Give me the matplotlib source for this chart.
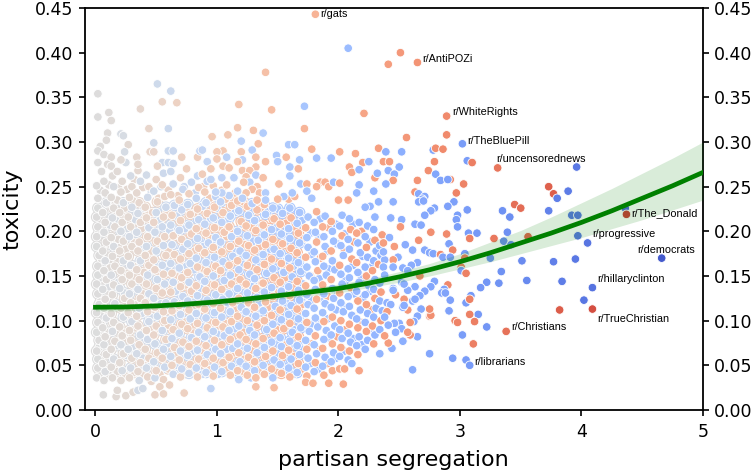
"""
Toxicity against partisan segregation for a set of subreddits.
Point values are estimates read off the picture; a negative segregation
value marks the left leaning (blue) side, a positive one the right (red) side.
"""

import matplotlib.pyplot as plt
import numpy as np

band_0 = [(0.01,0.036),(0.02,0.047),(-0.02,0.057),(0.01,0.066),(0.03,0.078),(-0.01,0.087),(0.02,0.098),(0.01,0.109),(-0.03,0.118),(0.02,0.13),(0.01,0.141),(-0.02,0.151),(0.02,0.161),(0.03,0.173),(-0.01,0.183),(0.01,0.194),(0.02,0.205),(0.01,0.216),(-0.02,0.226),(0.02,0.237),(0.01,0.251),
(0.07,0.033),(-0.08,0.043),(0.06,0.052),(0.09,0.062),(-0.07,0.073),(0.08,0.082),(0.06,0.092),(-0.09,0.103),(0.07,0.114),(0.08,0.124),(-0.06,0.135),(0.09,0.146),(0.07,0.156),(-0.08,0.167),(0.06,0.178),(0.09,0.188),(-0.07,0.199),(0.08,0.21),(0.06,0.221),(-0.09,0.232),(0.08,0.243),(0.07,0.256),
(0.14,0.036),(0.13,0.048),(-0.15,0.057),(0.13,0.068),(0.16,0.077),(-0.14,0.088),(0.15,0.098),(0.13,0.108),(-0.16,0.119),(0.14,0.129),(0.15,0.14),(-0.13,0.151),(0.16,0.161),(0.14,0.172),(-0.15,0.183),(0.13,0.193),(0.16,0.205),(-0.14,0.215),(0.15,0.226),(0.13,0.238),(-0.15,0.25),(0.14,0.262)]

band_1 = [(0.21,0.033),(-0.22,0.044),(0.2,0.053),(0.23,0.063),(-0.21,0.073),(0.22,0.083),(0.2,0.093),(-0.23,0.104),(0.21,0.114),(0.24,0.125),(-0.2,0.136),(0.22,0.146),(0.21,0.156),(-0.23,0.167),(0.2,0.178),(0.23,0.189),(-0.21,0.2),(0.22,0.21),(0.2,0.221),(-0.23,0.232),(0.21,0.244),(0.22,0.256),
(0.28,0.036),(-0.29,0.047),(0.3,0.058),(-0.27,0.068),(0.29,0.078),(0.28,0.089),(-0.3,0.099),(0.27,0.109),(0.29,0.12),(-0.28,0.13),(0.3,0.141),(0.28,0.151),(-0.29,0.162),(0.27,0.172),(0.3,0.183),(-0.28,0.194),(0.29,0.205),(0.27,0.216),(-0.3,0.227),(0.28,0.238),(0.3,0.25),(-0.29,0.262),
(-0.36,0.033),(0.35,0.043),(0.37,0.053),(-0.34,0.063),(0.36,0.073),(-0.37,0.084),(0.35,0.094),(0.34,0.105),(-0.36,0.114),(0.37,0.125),(-0.35,0.135),(0.36,0.146),(0.34,0.157),(-0.37,0.167),(0.35,0.178),(0.36,0.188),(-0.34,0.199),(0.37,0.21),(-0.35,0.22),(0.36,0.232),(0.34,0.243),(-0.37,0.256),(0.35,0.268),
(0.43,0.037),(-0.42,0.047),(0.44,0.058),(0.41,0.068),(-0.43,0.079),(0.42,0.089),(-0.44,0.099),(0.43,0.11),(0.41,0.12),(-0.44,0.13),(0.42,0.141),(-0.43,0.151),(0.44,0.162),(0.41,0.173),(-0.42,0.183),(0.43,0.194),(-0.44,0.204),(0.42,0.215),(0.41,0.227),(-0.43,0.238),(0.44,0.25),(-0.42,0.263)]

band_2 = [(-0.49,0.036),(0.5,0.044),(-0.48,0.054),(0.51,0.064),(-0.49,0.074),(0.48,0.084),(0.5,0.094),(-0.51,0.105),(0.49,0.115),(-0.48,0.125),(0.5,0.136),(-0.51,0.146),(0.49,0.157),(0.48,0.168),(-0.5,0.178),(0.51,0.189),(-0.49,0.199),(0.48,0.21),(-0.5,0.221),(0.51,0.233),(-0.48,0.245),(0.5,0.258),
(0.56,0.034),(-0.57,0.048),(0.55,0.058),(-0.56,0.068),(0.58,0.079),(-0.55,0.089),(0.57,0.1),(0.56,0.11),(-0.58,0.12),(0.55,0.131),(-0.57,0.141),(0.56,0.152),(-0.55,0.162),(0.58,0.173),(-0.56,0.184),(0.57,0.194),(-0.55,0.205),(0.56,0.216),(-0.58,0.227),(0.57,0.239),(0.55,0.252),(-0.56,0.265),
(-0.64,0.04),(0.63,0.05),(-0.62,0.06),(0.65,0.07),(-0.63,0.08),(0.64,0.09),(-0.62,0.101),(0.63,0.111),(-0.65,0.121),(0.62,0.132),(-0.64,0.143),(0.63,0.153),(-0.62,0.164),(0.65,0.174),(-0.63,0.185),(0.64,0.195),(-0.62,0.207),(0.63,0.218),(-0.65,0.229),(0.62,0.241),(-0.64,0.253),
(0.7,0.037),(-0.71,0.046),(0.69,0.056),(-0.7,0.066),(0.72,0.076),(-0.69,0.086),(0.71,0.096),(-0.7,0.107),(0.69,0.117),(-0.72,0.127),(0.7,0.138),(0.71,0.148),(-0.69,0.159),(0.7,0.169),(-0.72,0.18),(0.71,0.191),(-0.69,0.201),(0.7,0.212),(-0.71,0.224),(0.69,0.235),(-0.72,0.247),(0.7,0.26),
(-0.77,0.041),(0.78,0.051),(-0.76,0.061),(0.77,0.071),(-0.79,0.081),(0.76,0.091),(-0.78,0.102),(0.77,0.112),(-0.76,0.122),(0.79,0.133),(-0.77,0.143),(0.76,0.154),(-0.78,0.164),(0.77,0.175),(-0.76,0.186),(0.79,0.197),(-0.77,0.207),(0.78,0.219),(-0.76,0.23),(0.77,0.242),(-0.79,0.255),
(0.84,0.037),(-0.83,0.047),(0.85,0.057),(-0.84,0.067),(0.83,0.077),(-0.85,0.087),(0.84,0.097),(-0.83,0.108),(0.85,0.118),(-0.84,0.128),(0.83,0.139),(-0.86,0.149),(0.84,0.16),(-0.83,0.17),(0.85,0.181),(-0.84,0.192),(0.83,0.203),(-0.85,0.213),(0.84,0.225),(-0.83,0.237),(0.85,0.249),(-0.84,0.262),
(-0.91,0.042),(0.9,0.052),(-0.92,0.062),(0.91,0.072),(-0.9,0.082),(0.92,0.092),(-0.91,0.103),(0.9,0.113),(-0.92,0.123),(0.91,0.134),(-0.9,0.144),(0.92,0.155),(-0.91,0.165),(0.9,0.176),(-0.93,0.187),(0.91,0.198),(-0.9,0.208),(0.92,0.22),(-0.91,0.232),(0.9,0.244),(-0.92,0.256)]

band_3 = [(0.97,0.038),(-0.98,0.048),(0.97,0.058),(-0.99,0.068),(0.98,0.078),(-0.97,0.088),(0.99,0.098),(-0.98,0.109),(0.97,0.119),(-0.99,0.129),(0.98,0.14),(-0.97,0.15),(0.99,0.161),(-0.98,0.171),(0.97,0.182),(-0.99,0.193),(0.98,0.204),(-0.97,0.215),(0.98,0.227),(-0.99,0.239),(0.97,0.251),
(-1.04,0.043),(1.05,0.053),(-1.03,0.063),(1.04,0.073),(-1.06,0.083),(1.05,0.093),(-1.04,0.104),(1.03,0.114),(-1.05,0.124),(1.04,0.135),(-1.06,0.145),(1.03,0.156),(-1.05,0.166),(1.04,0.177),(-1.03,0.188),(1.06,0.199),(-1.04,0.21),(1.05,0.221),(-1.03,0.233),(1.04,0.246),
(1.11,0.039),(-1.12,0.049),(1.1,0.059),(-1.13,0.069),(1.11,0.079),(-1.1,0.089),(1.12,0.099),(-1.11,0.11),(1.13,0.12),(-1.1,0.13),(1.12,0.141),(-1.11,0.151),(1.1,0.162),(-1.13,0.172),(1.11,0.183),(-1.12,0.194),(1.1,0.205),(-1.11,0.217),(1.12,0.229),(-1.1,0.24),
(-1.18,0.034),(1.17,0.044),(-1.19,0.054),(1.18,0.064),(-1.17,0.074),(1.19,0.084),(-1.18,0.094),(1.17,0.105),(-1.2,0.115),(1.18,0.125),(-1.17,0.136),(1.19,0.146),(-1.18,0.157),(1.17,0.167),(-1.19,0.178),(1.18,0.189),(-1.17,0.2),(1.2,0.211),(-1.18,0.223),(1.17,0.234),
(1.25,0.039),(-1.24,0.049),(1.26,0.059),(-1.25,0.069),(1.24,0.079),(-1.27,0.089),(1.25,0.1),(-1.24,0.11),(1.26,0.12),(-1.25,0.131),(1.24,0.141),(-1.27,0.152),(1.25,0.162),(-1.24,0.173),(1.26,0.184),(-1.25,0.195),(1.24,0.206),(-1.26,0.218),(1.25,0.228),
(-1.31,0.044),(1.32,0.036),(1.31,0.054),(-1.33,0.064),(1.32,0.074),(-1.31,0.084),(1.33,0.095),(-1.32,0.105),(1.31,0.115),(-1.33,0.126),(1.32,0.136),(-1.31,0.147),(1.33,0.157),(-1.32,0.168),(1.31,0.179),(-1.34,0.19),(1.32,0.201),(-1.31,0.212),(1.33,0.224),
(1.39,0.04),(-1.38,0.05),(1.4,0.06),(-1.39,0.07),(1.38,0.08),(-1.41,0.09),(1.39,0.1),(-1.38,0.111),(1.4,0.121),(-1.39,0.132),(1.38,0.142),(-1.41,0.153),(1.39,0.163),(-1.38,0.174),(1.4,0.185),(-1.39,0.196),(1.38,0.207),(-1.4,0.219),(1.39,0.23),
(-1.46,0.036),(1.45,0.046),(-1.47,0.056),(1.46,0.066),(-1.45,0.076),(1.47,0.086),(-1.46,0.096),(1.45,0.106),(-1.48,0.116),(1.46,0.127),(-1.45,0.137),(1.47,0.148),(-1.46,0.158),(1.45,0.169),(-1.47,0.18),(1.46,0.191),(-1.45,0.202),(1.47,0.214),(-1.46,0.226)]

band_4 = [(1.53,0.041),(-1.52,0.051),(1.54,0.061),(-1.53,0.071),(-1.52,0.081),(1.55,0.091),(-1.53,0.101),(1.52,0.112),(-1.54,0.122),(-1.53,0.133),(1.52,0.143),(-1.55,0.154),(1.53,0.164),(-1.52,0.175),(1.54,0.186),(-1.53,0.197),(1.52,0.208),(-1.54,0.22),
(-1.59,0.047),(1.6,0.037),(-1.61,0.057),(1.59,0.067),(-1.6,0.077),(-1.62,0.087),(1.6,0.097),(-1.59,0.107),(-1.61,0.117),(1.6,0.128),(-1.59,0.138),(-1.62,0.149),(1.6,0.159),(-1.59,0.17),(1.61,0.181),(-1.6,0.192),(-1.59,0.203),(1.61,0.215),(-1.6,0.226),
(-1.66,0.042),(1.67,0.052),(-1.68,0.062),(-1.66,0.072),(1.67,0.082),(-1.69,0.092),(-1.67,0.102),(1.66,0.113),(-1.68,0.123),(-1.67,0.134),(1.66,0.144),(-1.69,0.155),(-1.67,0.165),(1.66,0.176),(-1.68,0.187),(1.67,0.198),(-1.66,0.209),(-1.68,0.221),
(1.74,0.038),(-1.73,0.048),(-1.75,0.058),(1.74,0.068),(-1.73,0.078),(-1.76,0.088),(1.74,0.098),(-1.73,0.108),(-1.75,0.118),(-1.74,0.129),(1.73,0.139),(-1.76,0.15),(-1.74,0.16),(1.73,0.171),(-1.75,0.182),(-1.74,0.193),(1.73,0.204),(-1.75,0.216),
(-1.8,0.043),(1.81,0.053),(-1.82,0.063),(-1.8,0.073),(1.81,0.083),(-1.83,0.093),(-1.81,0.103),(-1.8,0.114),(1.82,0.124),(-1.81,0.135),(-1.8,0.145),(1.83,0.156),(-1.81,0.166),(-1.8,0.177),(1.82,0.188),(-1.81,0.199),(-1.8,0.21),(1.82,0.222),
(-1.87,0.049),(1.88,0.039),(-1.89,0.059),(1.87,0.069),(-1.88,0.079),(-1.9,0.089),(1.88,0.099),(-1.87,0.109),(-1.89,0.119),(-1.88,0.13),(1.87,0.14),(-1.9,0.151),(-1.88,0.161),(1.87,0.172),(-1.89,0.183),(-1.88,0.194),(1.87,0.205),(-1.89,0.217),
(1.95,0.044),(-1.94,0.054),(-1.96,0.064),(1.95,0.074),(-1.94,0.084),(-1.97,0.094),(1.95,0.104),(-1.94,0.115),(-1.96,0.125),(-1.95,0.136),(1.94,0.146),(-1.97,0.157),(-1.95,0.167),(1.94,0.178),(-1.96,0.189),(-1.95,0.2),(1.94,0.211)]

band_5 = [(-2.01,0.06),(2.02,0.07),(-2.03,0.08),(-2.01,0.09),(2.02,0.1),(-2.04,0.11),(-2.02,0.12),(2.01,0.131),(-2.03,0.141),(-2.02,0.152),(2.01,0.162),(-2.04,0.173),(-2.02,0.184),(2.03,0.195),(-2.01,0.206),(-2.03,0.218),
(-2.08,0.056),(2.09,0.066),(-2.1,0.076),(-2.08,0.086),(2.09,0.096),(-2.11,0.106),(-2.09,0.116),(-2.08,0.127),(2.1,0.137),(-2.09,0.148),(-2.08,0.158),(2.11,0.169),(-2.09,0.18),(-2.08,0.191),(2.1,0.202),(-2.09,0.214),
(2.16,0.062),(-2.15,0.072),(-2.17,0.082),(2.16,0.092),(-2.15,0.102),(-2.18,0.112),(2.16,0.122),(-2.15,0.133),(-2.17,0.143),(-2.16,0.154),(2.15,0.165),(-2.18,0.176),(-2.16,0.187),(2.15,0.198),(-2.17,0.21),
(-2.22,0.068),(-2.24,0.078),(2.23,0.088),(-2.22,0.098),(-2.24,0.108),(2.23,0.118),(-2.22,0.129),(-2.25,0.139),(2.23,0.15),(-2.22,0.16),(-2.24,0.171),(2.23,0.182),(-2.22,0.194),(-2.24,0.206),
(2.29,0.074),(-2.3,0.084),(2.28,0.094),(-2.29,0.104),(-2.31,0.114),(2.3,0.125),(-2.29,0.135),(-2.3,0.146),(2.28,0.156),(-2.29,0.167),(-2.31,0.178),(2.3,0.19),(-2.29,0.202),(-2.3,0.216),
(-2.34,0.09),(2.35,0.1),(-2.36,0.111),(-2.34,0.122),(2.35,0.132),(-2.34,0.142),(2.33,0.163),(-2.35,0.173),(-2.34,0.184),(2.36,0.196)]

# in-between points, the dense part has no white gaps
fill_a = [(0.04,0.041),(-0.03,0.07),(0.05,0.095),(0.04,0.121),(-0.04,0.148),(0.05,0.169),(0.03,0.199),(-0.05,0.222),(0.04,0.246),
(0.11,0.039),(-0.12,0.066),(0.11,0.087),(0.1,0.111),(-0.11,0.138),(0.12,0.159),(0.11,0.186),(-0.12,0.207),(0.1,0.231),(0.11,0.252),
(0.18,0.043),(-0.18,0.072),(0.19,0.094),(0.17,0.116),(-0.19,0.143),(0.18,0.166),(0.19,0.191),(-0.17,0.212),(0.18,0.235),(0.19,0.249),
(0.25,0.038),(-0.26,0.061),(0.24,0.086),(0.25,0.109),(-0.24,0.131),(0.26,0.153),(0.25,0.18),(-0.26,0.203),(0.24,0.226),(0.26,0.247),
(0.32,0.042),(-0.31,0.071),(0.33,0.092),(0.32,0.118),(-0.33,0.138),(0.31,0.161),(0.32,0.187),(-0.33,0.213),(0.31,0.234),(0.32,0.258),
(0.39,0.04),(-0.39,0.058),(0.4,0.088),(-0.38,0.108),(0.39,0.13),(0.4,0.154),(-0.39,0.181),(0.38,0.203),(-0.4,0.226),(0.39,0.249),
(0.46,0.032),(-0.46,0.053),(0.47,0.083),(-0.45,0.104),(0.46,0.125),(-0.47,0.156),(0.46,0.178),(-0.45,0.198),(0.47,0.221),(-0.46,0.244),
(0.53,0.04),(-0.53,0.069),(0.52,0.09),(-0.54,0.119),(0.53,0.141),(-0.52,0.163),(0.54,0.183),(-0.53,0.212),(0.52,0.237),(-0.54,0.25),
(0.6,0.046),(-0.59,0.074),(0.6,0.095),(-0.6,0.116),(0.61,0.137),(-0.59,0.158),(0.6,0.178),(-0.61,0.201),(0.59,0.222),(0.6,0.246),
(-0.67,0.05),(0.66,0.063),(-0.67,0.085),(0.68,0.112),(-0.66,0.133),(0.67,0.149),(-0.68,0.175),(0.66,0.196),(-0.67,0.217),(0.68,0.24),
(0.74,0.042),(-0.74,0.072),(0.75,0.099),(-0.73,0.118),(0.74,0.14),(-0.75,0.161),(0.73,0.183),(-0.74,0.203),(0.75,0.227),(-0.73,0.25)]

fill_b = [(0.81,0.044),(-0.8,0.066),(0.81,0.086),(-0.82,0.105),(0.8,0.13),(-0.81,0.157),(0.82,0.178),(-0.8,0.2),(0.81,0.22),(-0.82,0.243),
(-0.88,0.04),(0.87,0.067),(-0.88,0.093),(0.89,0.114),(-0.87,0.136),(0.88,0.159),(-0.89,0.183),(0.87,0.206),(-0.88,0.228),(0.89,0.25),
(0.94,0.045),(-0.95,0.075),(0.94,0.098),(-0.94,0.118),(0.95,0.14),(-0.93,0.171),(0.94,0.192),(-0.95,0.214),(0.94,0.237),
(-1.01,0.04),(1.01,0.063),(-1.0,0.085),(1.01,0.11),(-1.02,0.13),(1.0,0.152),(-1.01,0.183),(1.02,0.205),(-1.0,0.226),(1.01,0.24),
(1.08,0.046),(-1.08,0.068),(1.07,0.097),(-1.09,0.12),(1.08,0.141),(-1.07,0.16),(1.08,0.194),(-1.09,0.212),(1.07,0.236),
(-1.15,0.042),(1.14,0.064),(-1.15,0.091),(1.16,0.113),(-1.14,0.131),(1.15,0.153),(-1.16,0.177),(1.14,0.199),(-1.15,0.221),(1.15,0.243),
(1.22,0.043),(-1.21,0.066),(1.22,0.087),(-1.23,0.118),(1.21,0.141),(-1.22,0.163),(1.23,0.185),(-1.21,0.208),(1.22,0.233),
(-1.28,0.036),(1.29,0.067),(-1.28,0.093),(1.3,0.113),(-1.29,0.138),(1.28,0.168),(-1.3,0.189),(1.29,0.204),(-1.28,0.222),
(1.35,0.045),(-1.36,0.076),(1.35,0.099),(-1.35,0.12),(1.37,0.142),(-1.36,0.163),(1.35,0.183),(-1.37,0.206),(1.36,0.226),
(-1.42,0.044),(1.43,0.064),(-1.42,0.094),(1.42,0.115),(-1.43,0.131),(1.42,0.158),(-1.44,0.18),(1.43,0.203),(-1.42,0.222),
(1.49,0.042),(-1.5,0.063),(1.49,0.09),(-1.5,0.111),(1.51,0.132),(-1.49,0.16),(1.5,0.181),(-1.49,0.204),(-1.5,0.225),
(-1.56,0.043),(1.57,0.073),(-1.56,0.095),(-1.57,0.12),(1.56,0.148),(-1.57,0.167),(-1.56,0.187),(1.57,0.209),
(-1.63,0.04),(1.64,0.06),(-1.63,0.09),(-1.64,0.112),(1.63,0.137),(-1.63,0.161),(-1.65,0.178),(1.64,0.205),
(1.7,0.046),(-1.7,0.068),(-1.71,0.097),(1.7,0.118),(-1.71,0.141),(-1.7,0.17),(1.71,0.192),(-1.7,0.212),
(-1.77,0.052),(1.78,0.074),(-1.77,0.096),(-1.78,0.123),(1.77,0.15),(-1.78,0.174),(-1.77,0.198),
(-1.84,0.046),(1.85,0.068),(-1.84,0.098),(-1.85,0.125),(-1.84,0.147),(1.85,0.17),(-1.84,0.193),(-1.85,0.214),
(1.91,0.052),(-1.92,0.08),(-1.91,0.102),(1.91,0.127),(-1.92,0.158),(-1.91,0.178),(1.92,0.204),
(-1.98,0.058),(1.99,0.082),(-1.98,0.112),(-1.99,0.133),(1.98,0.163),(-1.99,0.186),(-1.98,0.208),
(-2.05,0.066),(2.06,0.09),(-2.05,0.115),(-2.06,0.145),(2.05,0.178),(-2.05,0.197),
(-2.12,0.08),(2.12,0.105),(-2.13,0.13),(-2.12,0.162),(2.13,0.188),(-2.12,0.208),
(-2.19,0.073),(2.19,0.098),(-2.2,0.125),(-2.19,0.148),(-2.2,0.172),(2.19,0.2),
(-2.26,0.09),(2.27,0.112),(-2.26,0.133),(-2.27,0.16),(-2.26,0.188)]

sparse_left = [(0.065,0.017),(0.17,0.015),(0.25,0.016),(0.18,0.022),(0.31,0.02),(-0.35,0.022),(-0.39,0.024),(0.49,0.017),(0.53,0.026),(0.56,0.018),(0.61,0.028),(0.73,0.019),(0.02,0.354),(0.02,0.328),(0.11,0.333),(0.13,0.324),(0.1,0.31),(0.09,0.302),(-0.21,0.309),(-0.23,0.307),(0.37,0.337),(0.44,0.315),(-0.51,0.365),(-0.62,0.357),(0.55,0.345),(0.67,0.344),(-0.6,0.315),(-0.48,0.299),(0.27,0.297),(0.04,0.295),(0.02,0.29),(0.07,0.286),(0.13,0.283),(-0.24,0.289),(0.34,0.283),(0.35,0.275),(0.45,0.289),(0.48,0.289),(-0.6,0.29),(-0.64,0.29),(-0.25,0.277),(0.02,0.277),(0.1,0.275),(0.13,0.273),(0.21,0.28),(0.05,0.267),(0.18,0.267),(-0.55,0.277),(-0.6,0.277),(-0.64,0.276),(0.71,0.283),(0.75,0.27),(0.51,0.273),(0.84,0.283),(-0.86,0.29),(-0.62,0.267)]

sparse_mid = [(-0.95,0.024),(1.32,0.026),(1.47,0.025),(1.73,0.031),(1.79,0.03),(1.92,0.03),(2.04,0.029),(2.17,0.044),(2.01,0.046),(2.05,0.046),(-2.11,0.052),(1.81,0.443),(-2.08,0.405),(1.4,0.378),(2.41,0.387),(1.18,0.342),(1.45,0.336),(-1.72,0.34),(2.21,0.332),(1.17,0.316),(1.3,0.313),(-1.38,0.31),(1.72,0.315),(0.96,0.306),(1.09,0.308),(-1.2,0.301),(1.34,0.298),(-1.29,0.291),(1.05,0.29),(1.0,0.289),(1.2,0.289),(-0.88,0.291),(-1.59,0.297),(-1.64,0.297),(1.78,0.292),(-1.49,0.285),(1.57,0.283),(1.32,0.283),(-1.08,0.283),(-1.5,0.278),(1.4,0.278),(-1.21,0.28),(1.0,0.281),(-0.92,0.278),(-1.68,0.28),(-1.82,0.282),(-1.94,0.282),(2.01,0.289),(2.14,0.287),(2.33,0.293),(2.2,0.277),(-2.25,0.278),(2.09,0.272),(2.11,0.266),(-2.17,0.269),(-1.6,0.272),(1.67,0.27),(1.32,0.272),(1.17,0.278),(1.05,0.273),(1.1,0.271),(0.95,0.27),(1.21,0.268),(1.27,0.268),(-1.32,0.263),(1.38,0.26),(1.24,0.261),(-1.14,0.26),(-1.04,0.26),(-0.95,0.258),(0.88,0.264),(-1.6,0.262),(2.3,0.26),(-2.32,0.265),(1.51,0.253),(-1.69,0.253),(1.74,0.253),(1.85,0.255),(1.89,0.255),(1.82,0.25),(1.92,0.25),(-1.96,0.255),(2.01,0.254),(-2.17,0.252),(-1.27,0.255),(1.08,0.252),(1.22,0.255),(1.33,0.25),(1.29,0.247),(1.24,0.243),(-1.17,0.245),(-1.04,0.243),(-0.99,0.244),(1.35,0.243),(-1.4,0.243),(-1.74,0.245),(-2.29,0.245),(-2.15,0.243),(-1.78,0.237),(2.0,0.235),(2.08,0.235),(-2.33,0.233),(-2.26,0.228),(-2.22,0.227),(1.59,0.236),(1.64,0.239),(-1.55,0.239),(-1.62,0.243),(1.5,0.236),(-1.4,0.235),(-1.29,0.231),(-1.21,0.237),(1.33,0.235)]

sparse_right = [(2.51,0.4),(2.65,0.389),(2.89,0.329),(-3.02,0.298),(2.56,0.305),(2.89,0.308),(-2.78,0.291),(2.8,0.293),(2.86,0.292),(-2.39,0.289),(-2.52,0.289),(2.37,0.278),(2.42,0.278),(-2.5,0.272),(-2.41,0.268),(-2.46,0.264),(2.45,0.257),(-2.39,0.253),(-2.45,0.233),(2.79,0.278),(-3.06,0.279),(3.1,0.277),(3.31,0.271),(-3.96,0.272),(2.74,0.268),(-2.8,0.264),(-2.84,0.257),(2.92,0.258),(-2.9,0.258),(2.65,0.257),(3.03,0.253),(2.63,0.244),(-2.66,0.242),(2.97,0.243),(-2.71,0.239),(-2.69,0.236),(-2.66,0.233),(-2.7,0.234),(3.73,0.25),(3.77,0.242),(-3.8,0.237),(-3.89,0.245),(3.45,0.23),(3.5,0.226),(-2.95,0.233),(-2.9,0.228),(-2.79,0.226),(-3.06,0.224),(-3.35,0.223),(-3.73,0.223),
(-4.36,0.226),(4.37,0.219),(-3.92,0.218),(-3.97,0.218),(-3.41,0.216),(-2.98,0.218),(-2.97,0.213),(-2.76,0.223),(-2.71,0.218),(-2.43,0.215),(-2.52,0.213),(2.51,0.205),(-2.63,0.208),(-2.68,0.207),(-2.98,0.205),(2.76,0.199),(2.89,0.197),(-3.07,0.198),(-3.14,0.198),(-3.39,0.199),(3.08,0.192),(3.28,0.192),(-3.36,0.189),(-3.42,0.185),(3.56,0.194),(-3.97,0.195),(-4.05,0.187),(-4.66,0.17),(-3.95,0.169),(-3.77,0.166),(-3.51,0.167),(-3.25,0.17),(-3.34,0.155),(-3.55,0.145),(-3.84,0.144),(-3.22,0.143),(-3.32,0.142),(-3.17,0.137),(-4.09,0.137),(-4.02,0.123),(4.09,0.113),(3.82,0.112),(3.38,0.088),(-3.22,0.093),(-3.15,0.107),(3.08,0.107),(3.12,0.099),(2.96,0.1),(2.98,0.098),(3.11,0.074),(-3.02,0.084),(-3.05,0.056),(-3.08,0.05),(-2.94,0.058),(-2.75,0.063),(-2.61,0.045),(-2.44,0.069),(-2.53,0.077),(-2.65,0.082),(2.59,0.084),(2.41,0.075),(2.38,0.083),(-2.34,0.063),
(2.75,0.105),(2.76,0.106),(2.75,0.113),(-2.68,0.113),(-2.65,0.105),(-2.62,0.099),(2.59,0.098),(-2.91,0.111),(-2.92,0.123),(-3.05,0.12),(-3.09,0.128),(3.08,0.124),(2.9,0.14),(-2.87,0.135),(-2.85,0.131),(-2.88,0.131),(-2.79,0.144),(-2.76,0.138),(-2.71,0.133),(-2.67,0.128),(-2.63,0.138),(-2.61,0.122),(-2.63,0.124),(-2.57,0.134),(2.54,0.124),(2.47,0.129),(2.57,0.112),(-2.53,0.115),(-2.54,0.117),(-2.45,0.136),(-2.45,0.134),(-2.4,0.12),(-2.43,0.118),(2.4,0.11),(-2.38,0.104),(-2.5,0.097),(-2.46,0.097),(-2.41,0.095),(-2.52,0.091),(-2.47,0.087),(2.57,0.087),
(-2.42,0.193),(2.37,0.187),(2.46,0.183),(-2.55,0.185),(2.66,0.19),(-2.61,0.179),(-2.71,0.179),(-2.75,0.176),(-2.78,0.175),(-2.91,0.186),(2.94,0.179),(2.84,0.174),(-2.86,0.171),(-2.92,0.171),(-3.04,0.175),(3.04,0.17),(3.01,0.16),(-3.01,0.156),(3.05,0.153),(-2.65,0.165),(-2.6,0.162),(-2.53,0.159),(-2.57,0.156),(2.67,0.15),(-2.49,0.171),(2.45,0.168),(-2.38,0.168),(-2.37,0.177),(-2.37,0.16),(-2.45,0.16),(-2.38,0.151),(-2.52,0.143),(-2.54,0.141)]

labels = ["r/gats", "r/AntiPOZi", "r/WhiteRights", "r/TheBluePill", "r/uncensorednews",
          "r/The_Donald", "r/progressive", "r/democrats", "r/hillaryclinton",
          "r/TrueChristian", "r/Christians", "r/librarians"]
label_x = [1.85, 2.69, 2.94, 3.06, 3.30, 4.41, 4.09, 4.46, 4.13, 4.13, 3.42, 3.12]
label_y = [0.443, 0.393, 0.334, 0.301, 0.281, 0.22, 0.197, 0.179, 0.1465, 0.102, 0.093, 0.054]

fit_x = [0, 0.25, 0.5, 0.75, 1, 1.25, 1.5, 1.75, 2, 2.25, 2.5, 2.75, 3, 3.25, 3.5, 3.75, 4, 4.25, 4.5, 4.75, 5]
fit_y = [0.115, 0.1153, 0.1165, 0.1185, 0.121, 0.1243, 0.128, 0.1318, 0.136, 0.142, 0.149, 0.157, 0.166, 0.176, 0.187, 0.198, 0.21, 0.223, 0.237, 0.251, 0.266]
fit_hi = [0.119, 0.119, 0.12, 0.122, 0.125, 0.128, 0.132, 0.136, 0.141, 0.147, 0.155, 0.164, 0.175, 0.188, 0.201, 0.216, 0.232, 0.248, 0.265, 0.282, 0.3]
fit_lo = [0.111, 0.111, 0.113, 0.115, 0.117, 0.12, 0.124, 0.128, 0.131, 0.137, 0.143, 0.15, 0.158, 0.166, 0.175, 0.184, 0.193, 0.203, 0.213, 0.224, 0.235]

y_ticks = [0.0, 0.05, 0.1, 0.15, 0.2, 0.25, 0.3, 0.35, 0.4, 0.45]


def main():
    points = np.array(fill_a + fill_b + band_0 + band_1 + band_2 + band_3 + band_4 + band_5
                      + sparse_left + sparse_mid + sparse_right)
    seg, tox = points[:, 0], points[:, 1]

    fig, ax = plt.subplots(nrows=1, ncols=1)
    fig.set_size_inches(7.52, 4.71)
    fig.subplots_adjust(left=84.5 / 752, right=703 / 752, top=1 - 8 / 471, bottom=1 - 410 / 471)

    # the real chart has thousands of points here, colour the gaps between ours
    dense = (np.abs(seg) < 1.7) & (tox > 0.04) & (tox < 0.235)
    ax.scatter(np.abs(seg[dense]), tox[dense], c=seg[dense], cmap="coolwarm", vmin=-5, vmax=5,
               s=70, linewidths=0, zorder=2)
    ax.scatter(np.abs(seg), tox, c=seg, cmap="coolwarm", vmin=-5, vmax=5,
               s=38, edgecolors="white", linewidths=0.6, zorder=2)
    ax.fill_between(fit_x, fit_lo, fit_hi, color="green", alpha=0.15, linewidth=0, zorder=3)
    ax.plot(fit_x, fit_y, color="green", linewidth=3.4, zorder=4)

    for name, x, y in zip(labels, label_x, label_y):
        ax.text(x, y, name, fontsize=7.8, family="Liberation Sans", va="center", zorder=5)

    ax.set_xlim(-0.09, 5)
    ax.set_ylim(0, 0.45)
    ax.set_xticks([0, 1, 2, 3, 4, 5])
    ax.set_yticks(y_ticks)
    ax.set_yticklabels([f"{t:.2f}" for t in y_ticks])
    ax.tick_params(axis="both", labelsize=12.5, length=4.5, width=1.2)
    ax.tick_params(axis="x", pad=5)
    ax.tick_params(axis="y", right=True, labelright=True)
    for spine in ax.spines.values():
        spine.set_linewidth(1.3)
    ax.set_xlabel("partisan segregation", fontsize=16, labelpad=6)
    ax.set_ylabel("toxicity", fontsize=16, labelpad=9)

    fig.savefig("out.png", dpi=100)
    plt.close(fig)


if __name__ == "__main__":
    main()
